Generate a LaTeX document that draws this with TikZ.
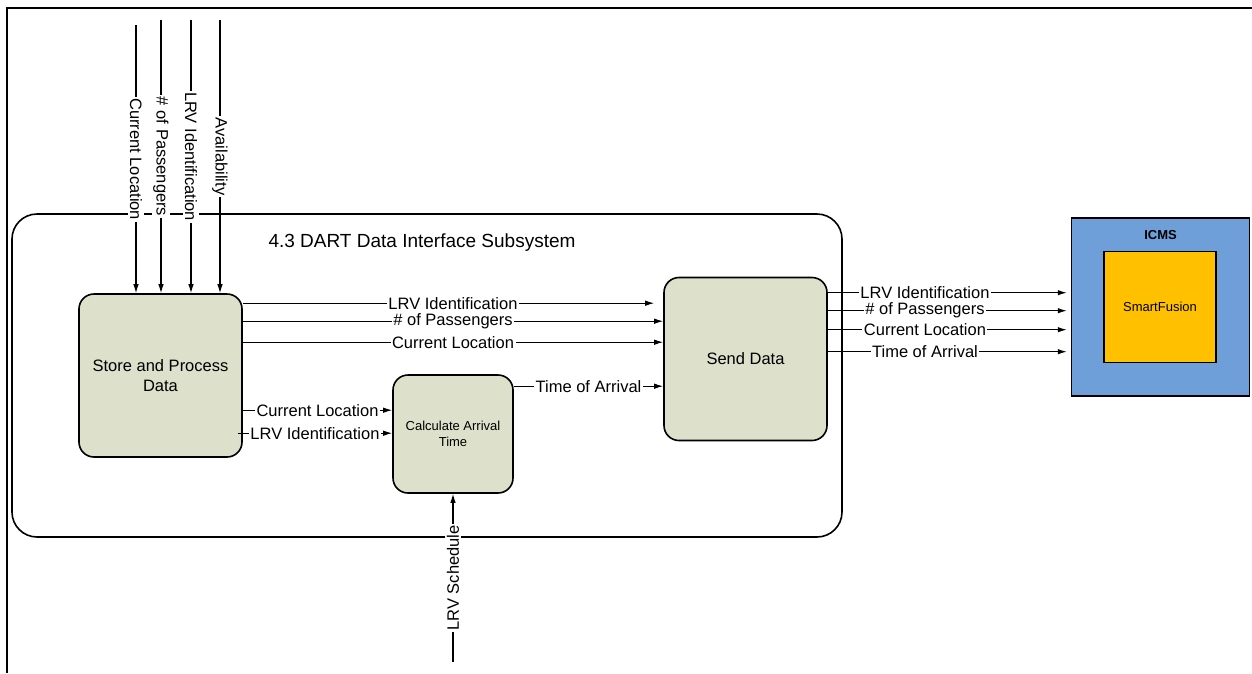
\documentclass[tikz,border=0pt]{standalone}
\usepackage{fontspec}
\setmainfont{Liberation Sans}
\usetikzlibrary{arrows.meta,positioning}
\definecolor{procfill}{HTML}{DDE0CB}
\definecolor{icmsblue}{HTML}{6F9FD8}
\definecolor{sfgold}{HTML}{FFC000}
\tikzset{
  proc/.style={draw, line width=1.6pt, fill=procfill, rounded corners=15pt, align=center,
    minimum width=163pt, minimum height=163pt, font=\fontsize{16.5}{19.5}\selectfont},
  flow/.style={line width=1.1pt, -{Latex[length=9pt,width=5.5pt]}},
  lbl/.style={fill=white, inner sep=1.5pt, font=\fontsize{16.5}{18}\selectfont},
}

\begin{document}
\begin{tikzpicture}[x=1pt, y=-1pt]
  \useasboundingbox (0,0) rectangle (1252,673);
  \draw[line width=2.2pt] (1252,8) -| (7,673);
  \node[draw, line width=1.6pt, rounded corners=25pt, minimum width=830pt, minimum height=323pt] (subsys) at (427,375.5) {};
  \node[font=\fontsize{19}{22}\selectfont] (title) at (422,243) {4.3 DART Data Interface Subsystem};

  \node[proc] (store) at (160.5,375.5) {Store and Process\\Data};
  \node[proc, minimum width=120pt, minimum height=118pt, font=\fontsize{13}{16}\selectfont] (calc) at (453,434) {Calculate Arrival\\Time};
  \node[proc] (send) at (745.5,359) {Send Data};
  \node[draw, line width=1.5pt, fill=icmsblue, minimum size=178pt] (icms) at (1160.5,307) {};
  \node[font=\fontsize{13}{16}\selectfont\bfseries, below=10pt of icms.north] (icmslabel) {ICMS};
  \node[draw, line width=1.5pt, fill=sfgold, minimum width=112pt, minimum height=111pt, font=\fontsize{13}{16}\selectfont] (fusion) at (1160,307) {SmartFusion};

  \foreach \n/\x/\y/\t in {1/136/25/Current Location, 2/161/20/\# of Passengers, 3/191/20/LRV Identification, 4/220/20/Availability}
  {
    \coordinate (in\n) at (\x,\y);
    \draw[flow] (in\n) -- node[lbl, rotate=-90] {\t} (in\n |- store.north);
  }

  \foreach \s/\g/\t in {10/9/LRV Identification, 28/0/\# of Passengers, 49/0/Current Location}
    \draw[flow, shorten >=\g pt] ([yshift=-\s pt]store.north east) coordinate (p) -- node[lbl] {\t} (p -| send.west);
  \draw[flow] ([yshift=-117pt]store.north east) coordinate (p) -- node[lbl] {Current Location} (p -| calc.west);
  \draw[flow] ([xshift=-5pt, yshift=-140pt]store.north east) coordinate (p) -- node[lbl] {LRV Identification} (p -| calc.west);
  \draw[flow] ([yshift=-12pt]calc.north east) coordinate (p) -- node[lbl] {Time of Arrival} (p -| send.west);

  \foreach \s/\t in {16/LRV Identification, 34/\# of Passengers, 53/Current Location, 75/Time of Arrival}
    \draw[flow, shorten >=4pt] ([yshift=-\s pt]send.north east) coordinate (p) -- node[lbl, pos=0.4] {\t} (p -| icms.west);

  \coordinate (sched) at (453,662);
  \draw[flow] (sched) -- node[lbl, rotate=90] {LRV Schedule} (calc.south);
\end{tikzpicture}
\end{document}
